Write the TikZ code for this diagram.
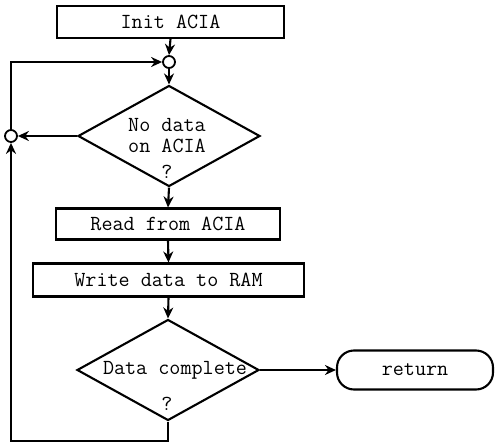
\documentclass[tikz,border=0pt]{standalone}
\usepackage{fontspec}
\usetikzlibrary{shapes.geometric,arrows.meta}
\begin{document}
\begin{tikzpicture}[x=1pt,y=-1pt,
  every node/.style={font=\ttfamily\fontsize{21.5}{24}\selectfont},
  arr/.style={line width=2.1pt,-{Stealth[length=11pt,width=10pt]}},
  procbox/.style={draw,line width=2.1pt,inner sep=0pt},
  decbox/.style={draw,diamond,line width=2.1pt,inner sep=0pt,minimum width=182pt,minimum height=101pt},
  joint/.style={draw,circle,line width=1.8pt,inner sep=0pt,minimum size=12pt},
  termbox/.style={draw,line width=2.1pt,rounded corners=17pt,inner sep=0pt}]
\useasboundingbox (0,0) rectangle (495,444);
\node[procbox,minimum width=227pt,minimum height=32pt] (init) at (170.5,22) {Init ACIA};
\node[joint] (c1) at (169,62) {};
\node[decbox] (d1) at (169,136) {};
\node (t1a) at (167,125) {No data};
\node (t1b) at (167,146) {on ACIA};
\node (t1c) at (167,172) {?};
\node[joint] (c2) at (11,136) {};
\node[procbox,minimum width=224pt,minimum height=31pt] (read) at (168,224) {Read from ACIA};
\node[procbox,minimum width=271pt,minimum height=33pt] (write) at (168.5,280) {Write data to RAM};
\node[decbox] (d2) at (168,370) {};
\node (t2a) at (175,370) {Data complete};
\node (t2b) at (167,404) {?};
\node[termbox,minimum width=156pt,minimum height=39pt] (ret) at (415,370) {return};
\coordinate (b1) at (168,441);
\coordinate (b2) at (11,441);
\coordinate (tl) at (11,62);
\draw[arr] (init.south) -- (c1.north);
\draw[arr] (c1.south) -- (d1.north);
\draw[arr] (d1.west) -- (c2.east);
\draw[arr] (d1.south) -- (read.north);
\draw[arr] (read.south) -- (write.north);
\draw[arr] (write.south) -- (d2.north);
\draw[arr] (d2.east) -- (ret.west);
\draw[arr] (d2.south) -- (b1) -- (b2) -- (c2.south);
\draw[arr] (c2.north) -- (tl) -- (c1.west);
\end{tikzpicture}
\end{document}
